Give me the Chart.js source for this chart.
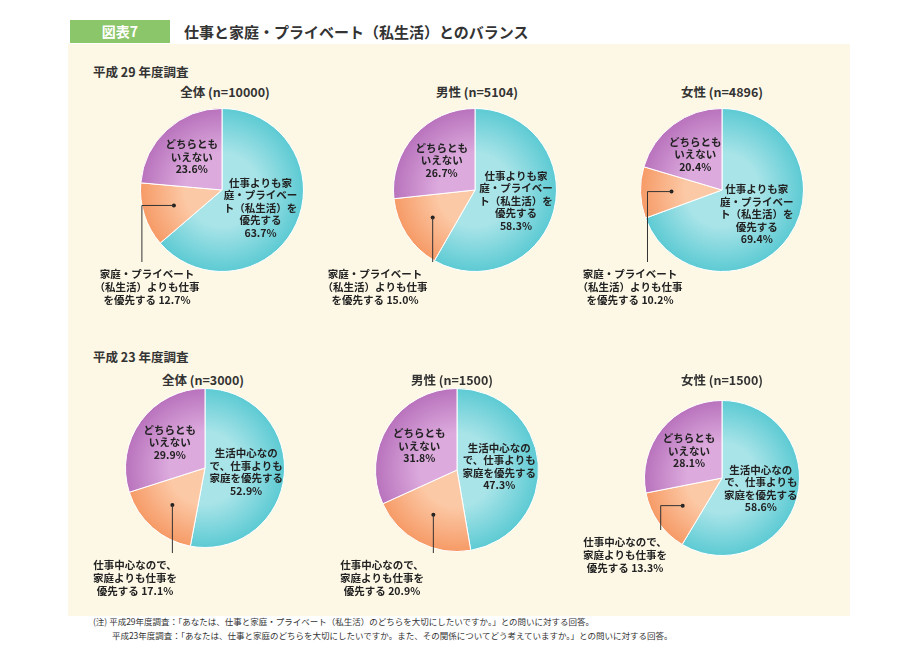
<!DOCTYPE html>
<html>
<head>
<meta charset="utf-8">
<script src="https://cdn.jsdelivr.net/npm/chart.js@4.4.0/dist/chart.umd.min.js"></script>
<style>
  body { margin:0; width:903px; height:656px; background:#fff; position:relative; font-family:"Noto Sans CJK JP",sans-serif; overflow:hidden; }
  .panel { position:absolute; left:68px; top:44px; width:782px; height:572px; background:#fdf8e6; }
  .tag { position:absolute; left:70px; top:20px; width:100px; height:23px; background:#8cc66a; color:#fff; font-weight:bold; font-size:14px; line-height:23px; text-align:center; }
  .head { position:absolute; left:184px; top:20px; font-size:15px; font-weight:bold; color:#333; line-height:23px; }
  .sec { position:absolute; left:93px; font-size:12.5px; font-weight:bold; color:#333; }
  .ttl { position:absolute; width:200px; margin-left:-100px; text-align:center; font-size:12.5px; font-weight:bold; color:#333; }
  canvas { position:absolute; }
  .note { position:absolute; left:93px; font-size:8.5px; color:#333; white-space:nowrap; }
</style>
</head>
<body>
<div class="panel"></div>
<div class="tag">図表7</div>
<div class="head">仕事と家庭・プライベート（私生活）とのバランス</div>
<div class="sec" style="top:62px">平成 29 年度調査</div>
<div class="sec" style="top:347px">平成 23 年度調査</div>
<div class="note" style="top:615px">(注) 平成29年度調査：「あなたは、仕事と家庭・プライベート（私生活）のどちらを大切にしたいですか。」との問いに対する回答。</div>
<div class="note" style="top:629px">　　 平成23年度調査：「あなたは、仕事と家庭のどちらを大切にしたいですか。また、その関係についてどう考えていますか。」との問いに対する回答。</div>
<div id="wrap"></div>
<script>
// categories (slice order, clockwise from 12 o'clock)
const titles29 = ['全体 (n=10000)', '男性 (n=5104)', '女性 (n=4896)'];
const titles23 = ['全体 (n=3000)', '男性 (n=1500)', '女性 (n=1500)'];
const labels29 = [['仕事よりも家', '庭・プライベー', 'ト（私生活）を', '優先する'], ['家庭・プライベート', '（私生活）よりも仕事', 'を優先する'], ['どちらとも', 'いえない']];
const labels23 = [['生活中心なの', 'で、仕事よりも', '家庭を優先する'], ['仕事中心なので、', '家庭よりも仕事を', '優先する'], ['どちらとも', 'いえない']];
// values (%): [家庭優先, 仕事優先, どちらともいえない]
const all29 = [63.7, 12.7, 23.6];
const male29 = [58.3, 15.0, 26.7];
const female29 = [69.4, 10.2, 20.4];
const all23 = [52.9, 17.1, 29.9];
const male23 = [47.3, 20.9, 31.8];
const female23 = [58.6, 13.3, 28.1];

const pies = [
  { t: titles29[0], l: labels29, d: all29, cx: 222, cy: 190, r: 82, tx: 225, ty: 82, elbow: -32, ly: 72, lx: -75 },
  { t: titles29[1], l: labels29, d: male29, cx: 475, cy: 190, r: 82, tx: 477, ty: 82, elbow: 0, ly: 72, lx: -100 },
  { t: titles29[2], l: labels29, d: female29, cx: 722, cy: 190, r: 82, tx: 722, ty: 82, elbow: -24, ly: 72, lx: -92 },
  { t: titles23[0], l: labels23, d: all23, cx: 205, cy: 468, r: 80, tx: 203, ty: 370, elbow: 0, ly: 85, lx: -70 },
  { t: titles23[1], l: labels23, d: male23, cx: 457, cy: 470, r: 82, tx: 452, ty: 370, elbow: 0, ly: 83, lx: -75 },
  { t: titles23[2], l: labels23, d: female23, cx: 722, cy: 478, r: 78, tx: 722, ty: 370, elbow: -22, ly: 52, lx: -97 }
];
const base = ['#5ccad3', '#f69a66', '#b872bc'];
const light = ['#a8e4e8', '#fcc9a6', '#dcaadd'];
const FONT = '"Noto Sans CJK JP", sans-serif';

const labelPlugin = {
  id: 'pielabels',
  afterDraw(chart) {
    const c = chart.ctx, p = chart.config.options.plugins.pielabels;
    const arcs = chart.getDatasetMeta(0).data;
    c.save();
    c.fillStyle = '#222';
    c.font = 'bold 10.5px ' + FONT;
    c.textAlign = 'center';
    c.textBaseline = 'middle';
    arcs.forEach((a, i) => {
      const v = chart.data.datasets[0].data[i].toFixed(1) + '%';
      const mid = (a.startAngle + a.endAngle) / 2;
      if (i === 1) {
        const dx = a.x + Math.cos(mid) * a.outerRadius * 0.62;
        const dy = a.y + Math.sin(mid) * a.outerRadius * 0.62;
        const ex = dx + p.elbow;
        c.strokeStyle = '#333'; c.lineWidth = 1;
        c.beginPath(); c.arc(dx, dy, 2, 0, Math.PI * 2); c.fill();
        c.beginPath(); c.moveTo(dx, dy); c.lineTo(ex, dy); c.lineTo(ex, a.y + p.ly); c.stroke();
        const lines = p.labels[1].slice();
        lines[lines.length - 1] += ' ' + v;
        lines.forEach((s, k) => c.fillText(s, a.x + p.lx, a.y + p.ly + 12 + k * 13));
        return;
      }
      const f = i === 0 ? 0.52 : 0.55;
      const x = a.x + Math.cos(mid) * a.outerRadius * f;
      const y = a.y + Math.sin(mid) * a.outerRadius * f;
      const lines = p.labels[i].concat([v]);
      const h = 12.5;
      lines.forEach((s, k) => c.fillText(s, x, y + (k - (lines.length - 1) / 2) * h));
    });
    c.restore();
  }
};

const wrap = document.getElementById('wrap');
pies.forEach(pc => {
  const t = document.createElement('div');
  t.className = 'ttl'; t.style.left = pc.tx + 'px'; t.style.top = pc.ty + 'px'; t.textContent = pc.t;
  wrap.appendChild(t);
  const W = 300, H = 260, ox = 160, oy = 100;
  const cv = document.createElement('canvas');
  cv.width = W; cv.height = H;
  cv.style.left = (pc.cx - ox) + 'px'; cv.style.top = (pc.cy - oy) + 'px';
  cv.style.width = W + 'px'; cv.style.height = H + 'px';
  wrap.appendChild(cv);
  new Chart(cv, {
    type: 'pie',
    data: {
      labels: pc.l.map(x => x.join('')),
      datasets: [{
        data: pc.d,
        borderColor: '#fff', borderWidth: 1,
        backgroundColor: ctx => {
          const ch = ctx.chart, g = ch.ctx.createRadialGradient(ox, oy, 0, ox, oy, pc.r);
          g.addColorStop(0, light[ctx.dataIndex]); g.addColorStop(0.45, light[ctx.dataIndex]);
          g.addColorStop(1, base[ctx.dataIndex]);
          return g;
        }
      }]
    },
    options: {
      responsive: false, animation: false, events: [],
      layout: { padding: { left: ox - pc.r, right: W - ox - pc.r, top: oy - pc.r, bottom: H - oy - pc.r } },
      plugins: {
        legend: { display: false }, tooltip: { enabled: false },
        pielabels: { labels: pc.l, elbow: pc.elbow, ly: pc.ly, lx: pc.lx }
      }
    },
    plugins: [labelPlugin]
  });
});
</script>
</body>
</html>
